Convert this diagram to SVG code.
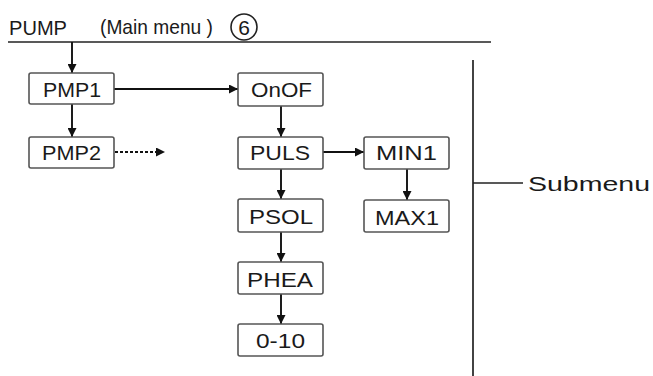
<svg xmlns="http://www.w3.org/2000/svg" width="653" height="376" viewBox="0 0 653 376">
<style>
.box{fill:#fff;stroke:#555;stroke-width:1.6}
.t{font-family:"Liberation Sans",Arial,sans-serif;font-size:21px;fill:#1a1a1a;text-anchor:start}
.ln{stroke:#222;stroke-width:1.7;fill:none}
.ar{stroke:#111;stroke-width:1.9;fill:none;marker-end:url(#ah)}
.dash{stroke:#111;stroke-width:1.8;fill:none;stroke-dasharray:3,2;marker-end:url(#ah)}
</style>
<defs>
<marker id="ah" viewBox="0 0 10 10" refX="10" refY="5" markerUnits="userSpaceOnUse" markerWidth="11" markerHeight="9" orient="auto">
<path d="M0,0 L10,5 L0,10 z" fill="#111"/>
</marker>
</defs>
<rect width="653" height="376" fill="#fff"/>
<g id="header">
<text class="t" x="9" y="35" font-size="20" textLength="58" lengthAdjust="spacingAndGlyphs">PUMP</text>
<text class="t" x="100" y="34" font-size="19" textLength="113" lengthAdjust="spacingAndGlyphs">(Main menu )</text>
<circle cx="244" cy="27" r="13" fill="none" stroke="#222" stroke-width="1.6"/>
<text class="t" x="244" y="35" style="text-anchor:middle" font-size="22">6</text>
<line class="ln" x1="8" y1="42" x2="491" y2="42"/>
</g>
<g id="submenu">
<line class="ln" x1="473" y1="60" x2="473" y2="376"/>
<line class="ln" x1="473" y1="183" x2="523" y2="183"/>
<text class="t" x="528" y="191" font-size="24" textLength="122" lengthAdjust="spacingAndGlyphs">Submenu</text>
</g>
<g id="connectors">
<line class="ar" x1="72" y1="42" x2="72" y2="73"/>
<line class="ar" x1="72" y1="104" x2="72" y2="137"/>
<line class="ar" x1="114" y1="89" x2="238" y2="89"/>
<line class="dash" x1="115" y1="152" x2="165" y2="152"/>
<line class="ar" x1="281" y1="106" x2="281" y2="137"/>
<line class="ar" x1="323" y1="152" x2="364" y2="152"/>
<line class="ar" x1="407" y1="169" x2="407" y2="200"/>
<line class="ar" x1="281" y1="169" x2="281" y2="199"/>
<line class="ar" x1="281" y1="232" x2="281" y2="262"/>
<line class="ar" x1="281" y1="294" x2="281" y2="324"/>
</g>
<g id="PMP1"><rect class="box" x="29" y="73" width="85" height="31" rx="2"/><text class="t" x="43" y="97" textLength="58" lengthAdjust="spacingAndGlyphs">PMP1</text></g>
<g id="PMP2"><rect class="box" x="29" y="137" width="85" height="31" rx="2"/><text class="t" x="42" y="160" textLength="59" lengthAdjust="spacingAndGlyphs">PMP2</text></g>
<g id="OnOF"><rect class="box" x="238" y="73" width="85" height="33" rx="2"/><text class="t" x="251" y="97" textLength="61" lengthAdjust="spacingAndGlyphs">OnOF</text></g>
<g id="PULS"><rect class="box" x="238" y="137" width="85" height="32" rx="2"/><text class="t" x="250" y="160" textLength="60" lengthAdjust="spacingAndGlyphs">PULS</text></g>
<g id="MIN1"><rect class="box" x="364" y="137" width="85" height="32" rx="2"/><text class="t" x="376" y="160" textLength="61" lengthAdjust="spacingAndGlyphs">MIN1</text></g>
<g id="MAX1"><rect class="box" x="364" y="200" width="85" height="32" rx="2"/><text class="t" x="375" y="225" textLength="64" lengthAdjust="spacingAndGlyphs">MAX1</text></g>
<g id="PSOL"><rect class="box" x="238" y="199" width="85" height="33" rx="2"/><text class="t" x="249" y="224" textLength="64" lengthAdjust="spacingAndGlyphs">PSOL</text></g>
<g id="PHEA"><rect class="box" x="238" y="262" width="85" height="32" rx="2"/><text class="t" x="247" y="287" textLength="66" lengthAdjust="spacingAndGlyphs">PHEA</text></g>
<g id="n0-10"><rect class="box" x="238" y="324" width="85" height="32" rx="2"/><text class="t" x="256" y="348" textLength="49" lengthAdjust="spacingAndGlyphs">0-10</text></g>
</svg>
